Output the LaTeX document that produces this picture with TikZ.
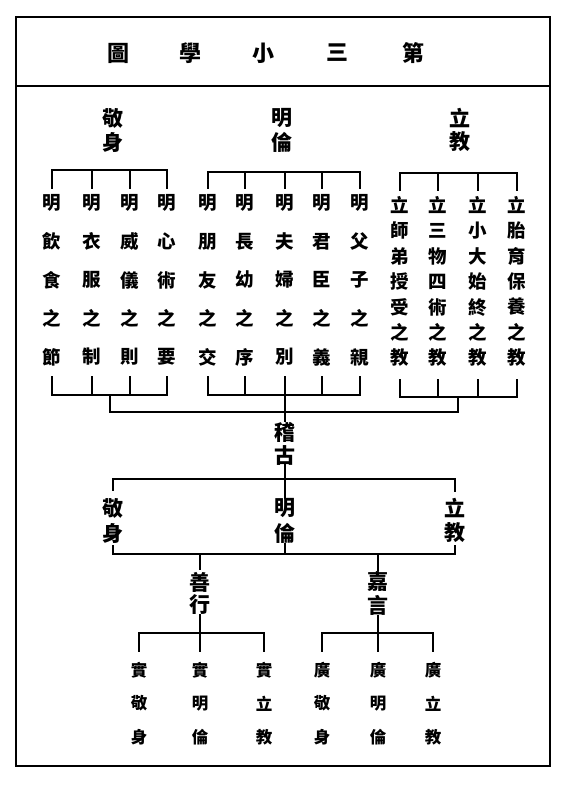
\documentclass[tikz,border=0pt]{standalone}
\usepackage{fontspec}
\newfontfamily\cjk{Noto Sans CJK TC}
\begin{document}
\begin{tikzpicture}[x=1pt,y=-1pt,
  ln/.style={line width=1.4pt,line cap=rect},
  frm/.style={line width=1.2pt},
  ttl/.style={font=\cjk\bfseries\fontsize{22}{22}\selectfont,inner sep=0pt},
  hd/.style={font=\cjk\bfseries\fontsize{21}{21}\selectfont,inner sep=0pt},
  ch/.style={font=\cjk\bfseries\fontsize{18.5}{18.5}\selectfont,inner sep=0pt},
  lf/.style={font=\cjk\bfseries\fontsize{16.5}{16.5}\selectfont,inner sep=0pt}]
\useasboundingbox (0,0) rectangle (567,793);
\fill[white] (0,0) rectangle (567,793);
% frame
\draw[frm] (16,17) rectangle (550,766);
\draw[frm] (16,86) -- (550,86);
% title
\foreach \x/\c [count=\i] in {118/圖,190/學,263/小,337/三,413/第}
  \node[ttl] (t\i) at (\x,53) {\c};
% headers
\node[hd] (ha1) at (113,118) {敬}; \node[hd] (ha2) at (113,142) {身};
\node[hd] (hb1) at (282,118) {明}; \node[hd] (hb2) at (282,142) {倫};
\node[hd] (hc1) at (460,118) {立}; \node[hd] (hc2) at (460,142) {教};
% group A
\foreach \x/\lst [count=\i] in {52/{明,飲,食,之,節},92/{明,衣,服,之,制},130/{明,威,儀,之,則},167/{明,心,術,之,要}}
  \foreach \c [count=\j] in \lst
    \node[ch] (a\i r\j) at (\x,{203+(\j-1)*38.5}) {\c};
% group B
\foreach \x/\lst [count=\i] in {208/{明,朋,友,之,交},245/{明,長,幼,之,序},285/{明,夫,婦,之,別},322/{明,君,臣,之,義},360/{明,父,子,之,親}}
  \foreach \c [count=\j] in \lst
    \node[ch] (b\i r\j) at (\x,{203+(\j-1)*38.5}) {\c};
% group C
\foreach \x/\lst [count=\i] in {400/{立,師,弟,授,受,之,教},438/{立,三,物,四,術,之,教},478/{立,小,大,始,終,之,教},517/{立,胎,育,保,養,之,教}}
  \foreach \c [count=\j] in \lst
    \node[ch] (c\i r\j) at (\x,{205+(\j-1)*25.5}) {\c};
% top brackets
\coordinate (aT) at (110,170);
\coordinate (bT) at (285,172);
\coordinate (cT) at (458,173);
\draw[ln] ([yshift=6pt]a1r1.north) |- (aT) -| ([yshift=6pt]a4r1.north);
\foreach \i in {2,3} \draw[ln] ([yshift=6pt]a\i r1.north) -- (a\i r1.north |- aT);
\draw[ln] ([yshift=6pt]b1r1.north) |- (bT) -| ([yshift=6pt]b5r1.north);
\foreach \i in {2,3,4} \draw[ln] ([yshift=6pt]b\i r1.north) -- (b\i r1.north |- bT);
\draw[ln] ([yshift=6pt]c1r1.north) |- (cT) -| ([yshift=6pt]c4r1.north);
\foreach \i in {2,3} \draw[ln] ([yshift=6pt]c\i r1.north) -- (c\i r1.north |- cT);
% bottom brackets
\coordinate (aB) at (110,395);
\coordinate (bB) at (285,395);
\coordinate (cB) at (458,397);
\draw[ln] ([yshift=-11pt]a1r5.south) |- (aB) -| ([yshift=-11pt]a4r5.south);
\foreach \i in {2,3} \draw[ln] ([yshift=-11pt]a\i r5.south) -- (a\i r5.south |- aB);
\draw[ln] ([yshift=-11pt]b1r5.south) |- (bB) -| ([yshift=-11pt]b5r5.south);
\foreach \i in {2,4} \draw[ln] ([yshift=-11pt]b\i r5.south) -- (b\i r5.south |- bB);
\draw[ln] ([yshift=-13pt]c1r7.south) |- (cB) -| ([yshift=-13pt]c4r7.south);
\foreach \i in {2,3} \draw[ln] ([yshift=-13pt]c\i r7.south) -- (c\i r7.south |- cB);
% second level join
\coordinate (jL) at (110,412);
\coordinate (jR) at (458,412);
\draw[ln] (aB) -- (jL) -- (jR) -- (cB);
% 稽古
\node[hd] (ji) at (285,432) {稽};
\node[hd] (gu) at (285,455) {古};
\draw[ln] ([yshift=-11pt]b3r5.south) -- (ji.north);
% middle tier
\node[hd] (k1) at (113,508) {敬}; \node[hd] (k2) at (113,533) {身};
\node[hd] (m1) at (285,508) {明}; \node[hd] (m2) at (285,533) {倫};
\node[hd] (l1) at (455,508) {立}; \node[hd] (l2) at (455,533) {教};
\coordinate (uR) at (455,479);
\draw[ln] ([yshift=7pt]k1.north) |- (uR) -- ([yshift=7pt]l1.north);
\draw[ln] (gu.south) -- (m1.north);
\coordinate (dR) at (455,554);
\draw[ln] ([yshift=-2pt]k2.south) |- (dR) -- ([yshift=-2pt]l2.south);
\draw[ln] (m2.south) -- (m2.south |- dR);
% 善行 / 嘉言
\node[hd] (s1) at (200,582) {善}; \node[hd] (s2) at (200,605) {行};
\node[hd] (g1) at (378,582) {嘉}; \node[hd] (g2) at (378,605) {言};
\draw[ln] (s1.north |- dR) -- ([yshift=2pt]s1.north);
\draw[ln] (g1.north |- dR) -- ([yshift=2pt]g1.north);
% leaves
\foreach \x/\lst [count=\i] in {139/{實,敬,身},200/{實,明,倫},264/{實,立,教}}
  \foreach \c [count=\j] in \lst
    \node[lf] (p\i r\j) at (\x,{670+(\j-1)*33.5}) {\c};
\foreach \x/\lst [count=\i] in {322/{廣,敬,身},378/{廣,明,倫},433/{廣,立,教}}
  \foreach \c [count=\j] in \lst
    \node[lf] (q\i r\j) at (\x,{670+(\j-1)*33.5}) {\c};
\coordinate (pH) at (200,633);
\coordinate (qH) at (378,633);
\draw[ln] ([yshift=11pt]p1r1.north) |- (pH) -| ([yshift=11pt]p3r1.north);
\draw[ln] (s2.south) -- ([yshift=11pt]p2r1.north);
\draw[ln] ([yshift=11pt]q1r1.north) |- (qH) -| ([yshift=11pt]q3r1.north);
\draw[ln] (g2.south) -- ([yshift=11pt]q2r1.north);
\end{tikzpicture}
\end{document}
